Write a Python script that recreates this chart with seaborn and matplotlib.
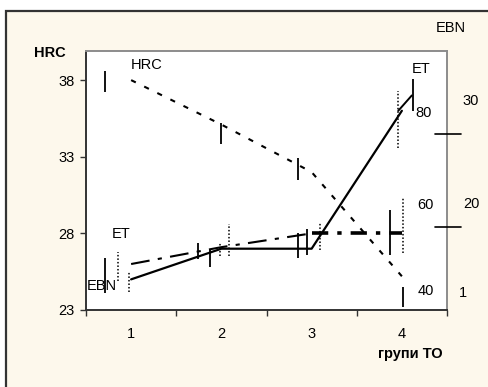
import matplotlib
matplotlib.use("Agg")
import matplotlib.pyplot as plt
import pandas as pd
import seaborn as sns
from matplotlib.patches import Rectangle

# data
groups = [1, 2, 3, 4]
hrc = [38.0, 35.1, 32.0, 25.2]
et = [25.0, 27.0, 27.0, 36.0]
ebn = [26.0, 27.1, 28.0, 28.0]
et_tail_x = [3.96, 4.11]
et_tail_y = [36.0, 37.0]

# scatter bars drawn around the points
bar_x = [0.71, 0.71, 0.85, 0.98, 1.74, 1.87, 1.99, 2.09, 2.00,
         2.85, 2.85, 2.95, 3.09, 3.96, 4.12, 3.87, 4.01, 4.01]
bar_lo = [37.2, 24.1, 24.9, 24.2, 26.3, 25.8, 26.5, 26.5, 33.8,
          31.5, 26.4, 26.6, 26.9, 33.6, 36.0, 26.6, 26.7, 23.2]
bar_hi = [38.6, 26.4, 26.8, 25.5, 27.4, 26.9, 27.4, 28.6, 35.2,
          32.9, 28.0, 28.3, 28.7, 37.3, 38.1, 29.5, 30.3, 24.5]
bar_kind = ["solid", "solid", "dotted", "dotted", "solid", "solid", "dotted", "dotted", "solid",
            "solid", "solid", "solid", "dotted", "dotted", "solid", "solid", "dotted", "solid"]

yticks = [23, 28, 33, 38]

BG = "#fdf8ec"
W, H = 488, 387

sns.set_style("white")
plt.rcParams["font.family"] = ["Liberation Sans", "DejaVu Sans"]
plt.rcParams["text.color"] = "black"
plt.rcParams["xtick.color"] = "black"
plt.rcParams["ytick.color"] = "black"

fig = plt.figure(figsize=(W / 100, H / 100), dpi=100)
fig.patch.set_facecolor("white")
# outer chart frame (cut off at right and bottom)
fig.patches.append(Rectangle((6 / W, -0.05), 1.1, 1 - 11 / H + 0.05, transform=fig.transFigure,
                             facecolor=BG, edgecolor="#333333", linewidth=1.6, zorder=-5))

ax = fig.add_axes([86 / W, 1 - 310 / H, (447 - 86) / W, (310 - 51) / H])
ax.set_facecolor("white")

df = pd.DataFrame({"group": groups, "HRC": hrc, "ET": et, "EBN": ebn})

sns.lineplot(data=df, x="group", y="HRC", ax=ax, color="black", linewidth=1.5,
             linestyle=(0, (2.5, 4.5)))
sns.lineplot(data=df, x="group", y="ET", ax=ax, color="black", linewidth=1.6)
sns.lineplot(x=et_tail_x, y=et_tail_y, ax=ax, color="black", linewidth=1.4)
sns.lineplot(data=df.iloc[:3], x="group", y="EBN", ax=ax, color="black", linewidth=1.5,
             linestyle=(0, (9, 4, 2, 4)))
sns.lineplot(data=df.iloc[2:], x="group", y="EBN", ax=ax, color="black", linewidth=2.6,
             linestyle=(0, (4.5, 2.5, 1.2, 2.5)))

for x, lo, hi, kind in zip(bar_x, bar_lo, bar_hi, bar_kind):
    if kind == "solid":
        ax.vlines(x, lo, hi, color="black", linewidth=1.3)
    else:
        ax.vlines(x, lo, hi, color="black", linewidth=1.1, linestyles=(0, (1, 1.3)))

ax.set_xlim(0.5, 4.5)
ax.set_ylim(23, 39.9)
ax.set_yticks(yticks)
ax.set_xticks(groups)
ax.set_xticks([0.5, 1.5, 2.5, 3.5, 4.5], minor=True)
ax.set_xlabel("")
ax.set_ylabel("")
ax.tick_params(axis="y", which="major", direction="out", length=4, width=1, color="#333333",
               labelsize=10.5, pad=4, left=True)
ax.tick_params(axis="x", which="major", length=0, labelsize=10.5, pad=12)
ax.tick_params(axis="x", which="minor", direction="out", length=4, width=1, color="#333333",
               bottom=True)

for side in ["left", "bottom"]:
    ax.spines[side].set_color("#333333")
    ax.spines[side].set_linewidth(1.4)
for side in ["top", "right"]:
    ax.spines[side].set_color("#8c8c8c")
    ax.spines[side].set_linewidth(1.4)

# labels inside the plot
ax.text(1.0, 38.5, "HRC", fontsize=10.5, ha="left", va="bottom")
ax.text(0.78, 27.5, "ET", fontsize=10.5, ha="left", va="bottom")
ax.text(0.51, 24.1, "EBN", fontsize=10.5, ha="left", va="bottom")
ax.text(4.11, 38.3, "ET", fontsize=10.5, ha="left", va="bottom")
ax.text(4.15, 35.4, "80", fontsize=10.5, ha="left", va="bottom")
ax.text(4.17, 29.4, "60", fontsize=10.5, ha="left", va="bottom")
ax.text(4.17, 23.8, "40", fontsize=10.5, ha="left", va="bottom")

# labels outside the plot
def ftext(x, y, s, **kw):
    fig.text(x / W, 1 - y / H, s, fontsize=10.5, va="center", **kw)

ftext(50, 53, "HRC", ha="center", fontweight="bold")
ftext(451, 28, "EBN", ha="center")
ftext(471, 101, "30", ha="center")
ftext(471, 204, "20", ha="center")
ftext(463, 293, "1", ha="center")
ftext(410, 354, "групи ТО", ha="center", fontweight="bold")

# short marks on the right edge
fig.add_artist(plt.Line2D([435 / W, 461 / W], [1 - 134 / H] * 2, color="black", linewidth=1.2))
fig.add_artist(plt.Line2D([435 / W, 461 / W], [1 - 227 / H] * 2, color="black", linewidth=1.2))

fig.savefig("out.png", dpi=100, facecolor=fig.get_facecolor())
